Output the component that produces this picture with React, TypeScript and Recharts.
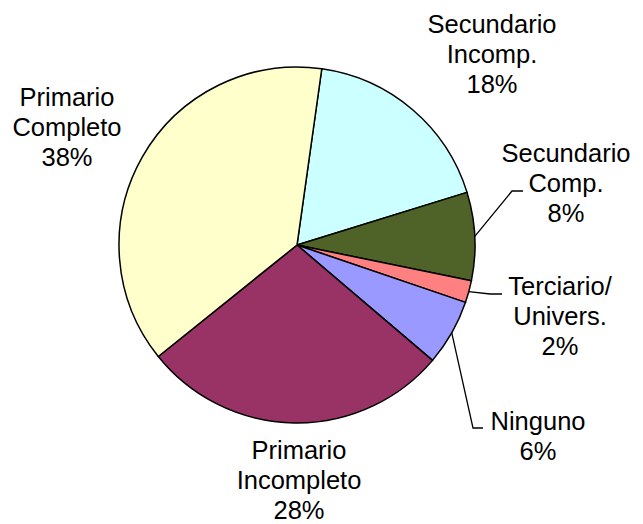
import { PieChart, Pie, Cell } from 'recharts';

const categories = [
  'Secundario\nIncomp.',
  'Secundario\nComp.',
  'Terciario/\nUnivers.',
  'Ninguno',
  'Primario\nIncompleto',
  'Primario\nCompleto',
];
const shares = [18, 8, 2, 6, 28, 38];

const COLORS = ['#CCFFFF', '#4F6228', '#FF8080', '#9999FF', '#993366', '#FFFFCC'];

const data = categories.map((name, i) => ({ name, value: shares[i] }));

// label placement relative to the pie centre: x of text centre, baseline of first line
const LABEL_POS = [
  { x: 195, y: -212 },
  { x: 269, y: -83 },
  { x: 263, y: 50 },
  { x: 241, y: 185 },
  { x: 2, y: 214 },
  { x: -230, y: -139 },
];

// leader lines for the narrow slices: bend point, then a short horizontal run
const LEADERS: Record<number, { bx: number; by: number; ex: number }> = {
  1: { bx: 215, by: -54, ex: 226 },
  2: { bx: 193, by: 49, ex: 205 },
  3: { bx: 176, by: 183, ex: 186 },
};

const RAD = Math.PI / 180;
const FONT = "'Liberation Sans', Arial, sans-serif";

function renderLabel(props: any) {
  const { cx, cy, midAngle, outerRadius, index, name, value } = props;
  const pos = LABEL_POS[index];
  const lines = [...String(name).split('\n'), `${value}%`];
  const lead = LEADERS[index];
  let line = null;
  if (lead) {
    const sx = cx + outerRadius * Math.cos(-midAngle * RAD);
    const sy = cy + outerRadius * Math.sin(-midAngle * RAD);
    line = (
      <polyline
        points={`${sx},${sy} ${cx + lead.bx},${cy + lead.by} ${cx + lead.ex},${cy + lead.by}`}
        fill='none'
        stroke='#000'
        strokeWidth={1.3}
      />
    );
  }
  return (
    <g key={`lbl-${index}`}>
      {line}
      <text
        x={cx + pos.x}
        y={cy + pos.y}
        textAnchor='middle'
        fontFamily={FONT}
        fontSize={25.5}
        fill='#000'
      >
        {lines.map((t, i) => (
          <tspan key={i} x={cx + pos.x} dy={i === 0 ? 0 : 30}>
            {t}
          </tspan>
        ))}
      </text>
    </g>
  );
}

export default function App() {
  return (
    <div style={{ position: 'absolute', left: 0, top: 0, background: '#fff' }}>
      <PieChart
        width={643}
        height={524}
        margin={{ top: 0, right: 0, bottom: 0, left: 0 }}
      >
        <Pie
          data={data}
          dataKey='value'
          nameKey='name'
          cx={297}
          cy={245}
          outerRadius={178}
          startAngle={82}
          endAngle={-278}
          stroke='#000'
          strokeWidth={1.5}
          label={renderLabel}
          labelLine={false}
          isAnimationActive={false}
        >
          {data.map((_, i) => (
            <Cell key={`cell-${i}`} fill={COLORS[i]} />
          ))}
        </Pie>
      </PieChart>
    </div>
  );
}
